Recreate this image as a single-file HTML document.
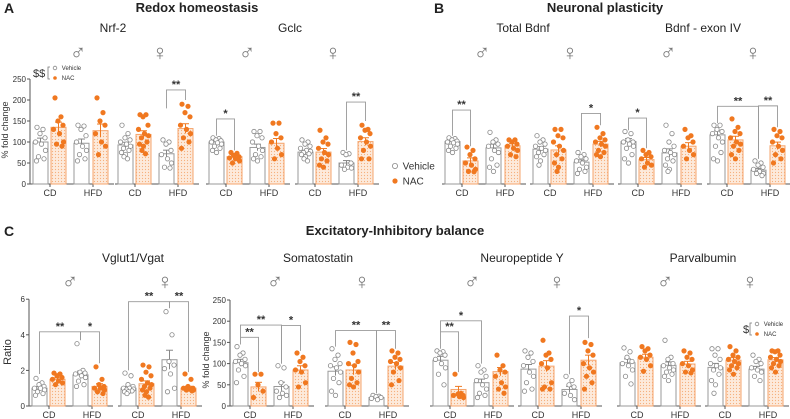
<!DOCTYPE html>
<html><head><meta charset="utf-8"><style>
html,body{margin:0;padding:0;background:#fff;}
svg{display:block;font-family:"Liberation Sans",sans-serif;}
</style></head><body>
<svg id="fig" width="790" height="419" viewBox="0 0 790 419" xmlns="http://www.w3.org/2000/svg">
<defs>
<pattern id="dots" width="3" height="3" patternUnits="userSpaceOnUse">
<rect width="3" height="3" fill="#fdeadb"/><circle cx="1.5" cy="1.5" r="0.6" fill="#f6b07c"/>
</pattern>
</defs>
<g font-weight="bold" font-size="14" fill="#222">
<text x="4" y="13">A</text>
<text x="434" y="13">B</text>
<text x="4" y="236">C</text>
</g>
<g font-weight="bold" font-size="13" fill="#222" text-anchor="middle">
<text x="197" y="12">Redox homeostasis</text>
<text x="605" y="12">Neuronal plasticity</text>
<text x="395" y="235">Excitatory-Inhibitory balance</text>
</g>
<g font-size="12" fill="#222" text-anchor="middle">
<text x="113" y="32">Nrf-2</text>
<text x="290" y="32">Gclc</text>
<text x="523" y="32">Total Bdnf</text>
<text x="703" y="32">Bdnf - exon IV</text>
<text x="133" y="262">Vglut1/Vgat</text>
<text x="318" y="262">Somatostatin</text>
<text x="522" y="262">Neuropeptide Y</text>
<text x="703" y="262">Parvalbumin</text>
</g>
<g font-size="9" fill="#333" transform="rotate(-90)" text-anchor="middle">
<text x="-130" y="8">% fold change</text>
<text x="-352" y="11" font-size="11">Ratio</text>
<text x="-360" y="209">% fold change</text>
</g>
<g id="legends"></g>
<g id="charts"></g>
</svg>
<script>
// ---------- DATA ----------
const categories = ["CD Vehicle","CD NAC","HFD Vehicle","HFD NAC"];
const groupLabels = ["CD","HFD"];
const pctTicks = [0,50,100,150,200,250];
const ratioTicks = [0,2,4,6];

const nrf2MaleMeans = [100,135,97,127];
const nrf2MalePts = [[135,130,120,110,100,95,80,65,60,55],[205,160,150,140,130,120,100,95,90],[140,138,130,115,100,90,80,70,60,55],[205,170,150,140,120,100,90,70]];
const nrf2FemaleMeans = [93,118,72,132];
const nrf2FemalePts = [[140,120,110,105,100,95,90,85,80,75,70,65,60],[165,165,160,140,130,120,115,110,100,95,90,80,72],[105,100,95,80,70,60,50,40,38],[190,185,170,160,140,130,120,110,100,85]];
const gclcMaleMeans = [100,65,87,97];
const gclcMalePts = [[110,108,105,103,100,98,95,90,85,80,75],[75,73,68,65,62,60,55,50],[125,125,115,110,100,90,80,70,65,60,55],[145,145,120,110,100,85,70,60]];
const gclcFemaleMeans = [76,76,50,101];
const gclcFemalePts = [[105,100,95,90,85,80,78,75,72,70,65,60,55],[128,110,100,95,85,75,70,60,55,45,40],[75,72,70,50,45,40,38,35],[140,130,128,120,110,100,90,80,60,60]];

const bdnfMaleMeans = [101,55,86,91];
const bdnfMalePts = [[110,108,105,102,100,98,95,90,85,80,75],[88,80,70,60,50,45,35,30,29],[123,105,100,95,90,80,75,60,45,40,30],[105,105,100,95,90,85,80,70,65]];
const bdnfFemaleMeans = [83,81,52,95];
const bdnfFemalePts = [[115,105,100,95,90,85,80,75,70,65,55,45],[130,130,115,110,100,90,80,70,60,50,40,30],[75,70,65,60,55,50,40,35,30,25],[135,120,110,105,100,95,90,80,75,70,65]];
const bdnf4MaleMeans = [101,58,74,90];
const bdnf4MalePts = [[125,120,105,100,100,95,90,85,70,60,50],[80,75,70,65,60,50,45,40],[140,120,100,90,80,75,70,60,55,45,35,30],[130,115,110,100,90,80,70,60]];
const bdnf4FemaleMeans = [117,105,33,91];
const bdnf4FemalePts = [[140,140,130,125,120,110,100,90,75,60,55],[155,135,125,120,110,100,95,90,80,70,60],[55,50,45,40,35,30,25,25,20],[130,125,115,110,100,90,80,70,60,50]];

const vglutMaleMeans = [1.0,1.5,1.75,1.1];
const vglutMalePts = [[1.55,1.3,1.2,1.1,1.0,1.0,0.9,0.8,0.7,0.6],[1.85,1.8,1.7,1.6,1.5,1.4,1.3,1.2],[3.5,2.0,1.9,1.85,1.8,1.7,1.6,1.4,1.2,1.1],[2.2,1.5,1.2,1.1,1.0,1.0,0.9,0.8,0.7]];
const vglutFemaleMeans = [1.0,1.25,2.6,1.0];
const vglutFemalePts = [[1.85,1.7,1.2,1.1,1.0,1.0,0.95,0.9,0.85,0.8,0.8,0.7],[2.3,2.2,1.9,1.7,1.5,1.3,1.2,1.1,1.0,0.9,0.8,0.6,0.5],[5.3,4.0,2.5,2.3,2.1,1.8,1.0,0.8],[1.8,1.5,1.1,1.0,1.0,0.95,0.9,0.9,0.85]];
const sstMaleMeans = [102,45,46,85];
const sstMalePts = [[140,125,120,110,105,100,95,85,70,55],[75,75,50,35,20],[95,90,55,45,35,30,25,20],[125,115,105,95,85,80,55,45]];
const sstFemaleMeans = [82,85,20,94];
const sstFemalePts = [[135,120,110,100,95,90,80,65,55,35,25],[150,145,125,105,100,95,80,65,55,50,45],[25,23,22,20,18,15],[130,125,115,110,105,100,90,80,60,50]];
const npyMaleMeans = [108,39,55,81];
const npyMalePts = [[130,128,125,120,110,100,90,75,50],[75,30,28,25,25,22,20],[95,85,80,70,60,50,40,30,25,20],[120,95,85,80,70,55,45,40,30]];
const npyFemaleMeans = [87,94,39,108];
const npyFemalePts = [[130,125,115,105,95,80,70,55,40,35],[155,125,120,110,100,90,55,45,40,40],[70,60,50,45,30,25,15],[150,145,130,120,100,90,80,70,55,40]];
const pvMaleMeans = [102,115,96,99];
const pvMalePts = [[137,128,115,105,100,95,85,70,52],[140,135,130,120,115,110,95,82],[155,115,110,100,95,90,85,80,75,70,60],[130,125,115,110,100,95,85,80,78]];
const pvFemaleMeans = [91,108,87,109];
const pvFemalePts = [[135,135,120,110,100,95,90,85,75,60,50,30],[140,130,120,115,110,105,100,95,90,85,75],[120,110,105,100,90,85,80,70,60],[130,130,128,120,115,110,105,100,95,90,80]];

// brackets: [fromBar, toBar, topValue, leftLegBottom, rightLegBottom, label]
const nrf2FemaleSig = [[2,3,224,180,200,"**"]];
const gclcMaleSig = [[0,1,155,115,80,"*"]];
const gclcFemaleSig = [[2,3,195,80,150,"**"]];
const bdnfMaleSig = [[0,1,176,115,90,"**"]];
const bdnfFemaleSig = [[2,3,168,80,140,"*"]];
const bdnf4MaleSig = [[0,1,157,128,85,"*"]];
const bdnf4FemaleSig = [[0,2,185,145,60,"**"],[2,3,186,60,135,"**"]];
const vglutMaleSig = [[0,2,4.17,1.8,3.7,"**"],[2,3,4.17,3.7,2.4,"*"]];
const vglutFemaleSig = [[0,2,5.86,2.0,5.5,"**"],[2,3,5.86,5.5,1.9,"**"]];
const sstMaleSig = [[0,1,162,145,80,"**"],[0,2,191,162,100,"**"],[2,3,190,100,130,"*"]];
const sstFemaleSig = [[0,2,178,140,30,"**"],[2,3,178,30,135,"**"]];
const npyMaleSig = [[0,1,175,135,80,"**"],[0,2,201,175,100,"*"]];
const npyFemaleSig = [[2,3,212,75,160,"*"]];

// ---------- LAYOUT ----------
const NS="http://www.w3.org/2000/svg";
const charts=document.getElementById('charts');
function el(tag,attrs,parent){const e=document.createElementNS(NS,tag);for(const k in attrs)e.setAttribute(k,attrs[k]);(parent||charts).appendChild(e);return e;}
const barOff=[3,21,44,63], barW=15, axisLen=84;
const jit=[-3.5,2.5,-0.5,4.5,-5,1,5,-2,3.5,-4,0,-1.5,2,-3];

function makeY(base,scale){return v=>base-v*scale;}

function drawGroup(name,x0,yf,means,pts,sig,sex,sexX,sexY){
  const g=el('g',{});
  
  
  const base=yf(0);
  const ax=el('line',{x1:x0,y1:base,x2:x0+axisLen,y2:base,stroke:'#555','stroke-width':1},g);
  
  
  groupLabels.forEach((lab,i)=>{
    const cx=x0+(i===0?20:63);
    el('line',{x1:cx,y1:base,x2:cx,y2:base+3,stroke:'#555'},g);
    const t=el('text',{x:cx,y:base+12,'font-size':9,'text-anchor':'middle',fill:'#333'},g);
    t.textContent=lab;
    
    
  });
  const s=el('text',{x:sexX,y:sexY,'font-size':22,'text-anchor':'middle',fill:'#777'},g);
  s.textContent=sex==='m'?'\u2642':'\u2640';
  
  
  means.forEach((m,i)=>{
    const nac=i%2===1;
    const bx=x0+barOff[i];
    const top=yf(m);
    const r=el('rect',{x:bx,y:top,width:barW,height:base-top,fill:nac?'url(#dots)':'#fff',stroke:nac?'#f5a46c':'#9a9a9a','stroke-width':1},g);
    
    
    const p=pts[i];
    const mean=p.reduce((a,b)=>a+b,0)/p.length;
    const sd=Math.sqrt(p.reduce((a,b)=>a+(b-mean)*(b-mean),0)/(p.length-1));
    const sem=sd/Math.sqrt(p.length);
    const cx=bx+barW/2, col=nac?'#ef7a22':'#888';
    el('line',{x1:cx,y1:yf(m+sem),x2:cx,y2:yf(m-sem),stroke:col,'stroke-width':1},g);
    el('line',{x1:cx-3.5,y1:yf(m+sem),x2:cx+3.5,y2:yf(m+sem),stroke:col,'stroke-width':1},g);
    p.forEach((v,j)=>{
      const c=el('circle',{cx:cx+jit[j%jit.length],cy:yf(v),r:2.2,fill:nac?'#f07820':'#fff',stroke:nac?'#f07820':'#888','stroke-width':0.8},g);
      
      
    });
  });
  (sig||[]).forEach(b=>{
    const xa=x0+barOff[b[0]]+barW/2, xb=x0+barOff[b[1]]+barW/2, yt=yf(b[2]);
    const pth=el('path',{d:`M${xa},${yf(b[3])}V${yt}H${xb}V${yf(b[4])}`,fill:'none',stroke:'#999','stroke-width':0.9},g);
    
    
    const t=el('text',{x:(xa+xb)/2,y:yt-2,'font-size':11,'font-weight':'bold','text-anchor':'middle',fill:'#333'},g);
    t.textContent=b[5];
    
    
  });
}

function drawYAxis(name,x,yf,ticks){
  const g=el('g',{});
  
  
  el('line',{x1:x,y1:yf(ticks[0]),x2:x,y2:yf(ticks[ticks.length-1]),stroke:'#555'},g);
  ticks.forEach(t=>{
    el('line',{x1:x-3,y1:yf(t),x2:x,y2:yf(t),stroke:'#555'},g);
    const tx=el('text',{x:x-4,y:yf(t)+3,'font-size':8,'text-anchor':'end',fill:'#333'},g);
    tx.textContent=t;
    
    
  });
}

const yA=makeY(184,0.42);
const yV=makeY(406,17.8);
const yS=makeY(406,0.424);

drawYAxis('a-y-axis',30,yA,pctTicks);
drawGroup('nrf2-male',30,yA,nrf2MaleMeans,nrf2MalePts,null,'m',78,60);
drawGroup('nrf2-female',115,yA,nrf2FemaleMeans,nrf2FemalePts,nrf2FemaleSig,'f',160,60);
drawGroup('gclc-male',206,yA,gclcMaleMeans,gclcMalePts,gclcMaleSig,'m',247,60);
drawGroup('gclc-female',295,yA,gclcFemaleMeans,gclcFemalePts,gclcFemaleSig,'f',333,60);
drawGroup('bdnf-male',442,yA,bdnfMaleMeans,bdnfMalePts,bdnfMaleSig,'m',482,60);
drawGroup('bdnf-female',530,yA,bdnfFemaleMeans,bdnfFemalePts,bdnfFemaleSig,'f',570,60);
drawGroup('bdnf4-male',618,yA,bdnf4MaleMeans,bdnf4MalePts,bdnf4MaleSig,'m',668,60);
drawGroup('bdnf4-female',707,yA,bdnf4FemaleMeans,bdnf4FemalePts,bdnf4FemaleSig,'f',753,60);

drawYAxis('vglut-y-axis',29,yV,ratioTicks);
drawGroup('vglut-male',29,yV,vglutMaleMeans,vglutMalePts,vglutMaleSig,'m',70,289);
drawGroup('vglut-female',118,yV,vglutFemaleMeans,vglutFemalePts,vglutFemaleSig,'f',165,289);
drawYAxis('sst-y-axis',230,yS,pctTicks);
drawGroup('sst-male',230,yS,sstMaleMeans,sstMalePts,sstMaleSig,'m',275,289);
drawGroup('sst-female',325,yS,sstFemaleMeans,sstFemalePts,sstFemaleSig,'f',362,289);
drawGroup('npy-male',430,yS,npyMaleMeans,npyMalePts,npyMaleSig,'m',472,289);
drawGroup('npy-female',518,yS,npyFemaleMeans,npyFemalePts,npyFemaleSig,'f',557,289);
drawGroup('pv-male',617,yS,pvMaleMeans,pvMalePts,null,'m',665,289);
drawGroup('pv-female',705,yS,pvFemaleMeans,pvFemalePts,null,'f',750,289);

// ---------- LEGENDS ----------
const L=document.getElementById('legends');
function legend(name,x,y1,y2,fs,r,dollar,dx){
  const g=el('g',{},L);
  
  
  if(dollar){
    const d=el('text',{x:x-dx,y:(y1+y2)/2+4,'font-size':11,fill:'#333'},g);d.textContent=dollar;
    el('path',{d:`M${x-5},${y1-1}h-2v${y2-y1+2}h2`,fill:'none',stroke:'#777','stroke-width':0.8},g);
  }
  el('circle',{cx:x,cy:y1,r:r,fill:'#fff',stroke:'#888','stroke-width':0.8},g);
  el('circle',{cx:x,cy:y2,r:r,fill:'#f07820'},g);
  const t1=el('text',{x:x+5+r,y:y1+fs*0.35,'font-size':fs,fill:'#333'},g);t1.textContent='Vehicle';
  const t2=el('text',{x:x+5+r,y:y2+fs*0.35,'font-size':fs,fill:'#333'},g);t2.textContent='NAC';
}
legend('a-legend',55,68,78,6,1.8,'$$',22);
legend('b-legend',395,166,181,10,2.6,null,0);
legend('pv-legend',757,324,334,6,1.8,'$',14);
</script>
</body></html>
